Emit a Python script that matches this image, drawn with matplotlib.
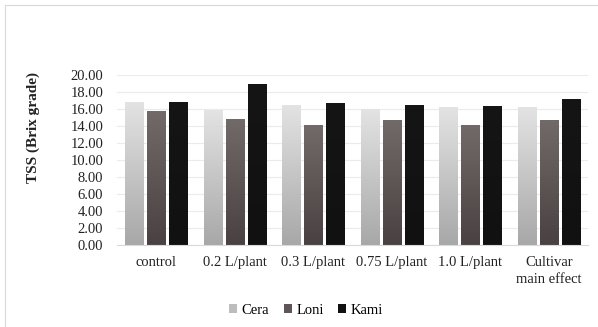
import numpy as np
import matplotlib
matplotlib.use('Agg')
import matplotlib.pyplot as plt
from matplotlib.patches import Patch
from matplotlib.colors import LinearSegmentedColormap

# data
categories = ['control', '0.2 L/plant', '0.3 L/plant', '0.75 L/plant', '1.0 L/plant', 'Cultivar\nmain effect']
cera = [16.85, 15.8, 16.45, 15.95, 16.2, 16.2]
loni = [15.7, 14.8, 14.05, 14.7, 14.1, 14.7]
kami = [16.8, 18.95, 16.65, 16.4, 16.3, 17.1]
series = ['Cera', 'Loni', 'Kami']
yticks = np.arange(0, 21, 2)

plt.rcParams['font.family'] = ['Liberation Serif', 'DejaVu Serif']

# gradient (top colour, bottom colour) for each cultivar
grads = [('#e3e3e3', '#a8a8a8'), ('#726a68', '#4a4242'), ('#151515', '#111111')]
legend_cols = ['#bdbdbd', '#5f5757', '#111111']

fig = plt.figure(figsize=(5.98, 3.27), dpi=100)
ax = fig.add_axes([0.1957, 0.2508, 0.7876, 0.5208])

x = np.arange(len(categories))
w = 0.23
off = 0.28
for i, vals in enumerate([cera, loni, kami]):
    cmap = LinearSegmentedColormap.from_list('g%d' % i, [grads[i][1], grads[i][0]])
    bars = ax.bar(x + (i - 1) * off, vals, w, color=grads[i][1], zorder=2,
                  edgecolor='#00000030', linewidth=0.6)
    for b in bars:
        x0 = b.get_x()
        h = b.get_height()
        grad = np.linspace(0, 1, 100).reshape(-1, 1)
        im = ax.imshow(grad, cmap=cmap, origin='lower', aspect='auto',
                       extent=(x0, x0 + w, 0, h), zorder=2.5)
        im.set_clip_path(b)

ax.set_xlim(-0.5, len(categories) - 0.5)
ax.set_ylim(0, 20)
ax.set_yticks(yticks)
ax.set_yticklabels(['%.2f' % v for v in yticks], fontsize=10.5)
ax.set_xticks(x)
ax.set_xticklabels(categories, fontsize=10.5, linespacing=1.4)
ax.tick_params(axis='both', length=0, colors='#333333')
ax.tick_params(axis='y', pad=10)
ax.tick_params(axis='x', pad=8)
for lbl in ax.get_xticklabels() + ax.get_yticklabels():
    lbl.set_color('#222222')
ax.grid(axis='y', color='#ebebeb', linewidth=0.8, zorder=0)
ax.set_axisbelow(True)
for s in ['top', 'right', 'left']:
    ax.spines[s].set_visible(False)
ax.spines['bottom'].set_color('#d9d9d9')
ax.spines['bottom'].set_zorder(3)

fig.text(33 / 598, 1 - 128 / 327, 'TSS (Brix grade)', rotation=90, fontsize=11,
         fontweight='bold', ha='center', va='center', color='#222222')

handles = [Patch(facecolor=c, edgecolor='none') for c in legend_cols]
fig.legend(handles, series, loc='center', bbox_to_anchor=(0.512, 1 - 310 / 327),
           ncol=3, frameon=False, fontsize=10.5, handlelength=0.55, handleheight=0.55,
           handletextpad=0.3, columnspacing=1.0)

# chart area border (left and top visible)
fig.add_artist(plt.Line2D([5 / 598, 5 / 598], [0, 1 - 5 / 327], color='#d9d9d9', lw=0.8))
fig.add_artist(plt.Line2D([5 / 598, 1], [1 - 5 / 327, 1 - 5 / 327], color='#d9d9d9', lw=0.8))

fig.savefig('out.png', dpi=100)
